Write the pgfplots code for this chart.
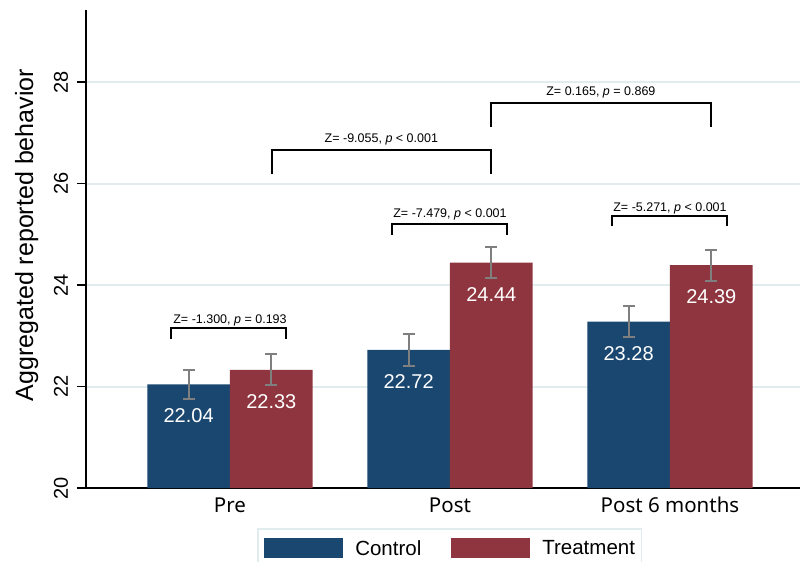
\documentclass[border=0pt]{standalone}
\usepackage{pgfplots}
\pgfplotsset{compat=1.18}
\usepackage{fontspec}
\setmainfont{Liberation Sans}
\newfontfamily\notosans{Noto Sans}
\definecolor{ctrl}{HTML}{1A476F}
\definecolor{treat}{HTML}{8E353F}
\definecolor{gridc}{HTML}{E1ECEF}
\definecolor{errc}{HTML}{7F7F7F}
\definecolor{lgd}{HTML}{E1ECEF}
\begin{document}
\begin{tikzpicture}
\begin{axis}[
  at={(0,0)}, anchor=south west,
  scale only axis, width=714bp, height=478bp,
  xmin=-0.6545, xmax=2.591, ymin=20, ymax=29.42,
  axis x line*=bottom, axis y line*=left,
  axis line style={black, line width=1.5bp, -},
  xtick={0,1,2}, xticklabels={Pre,Post,Post 6 months},
  xtick style={draw=none},
  xticklabel style={font=\notosans\fontsize{20.5bp}{24bp}\selectfont, text height=15bp, text depth=0pt, inner sep=0pt, anchor=north},
  ytick={20,22,24,26,28},
  ytick style={black, line width=1.5bp},
  tick align=outside, major tick length=9bp,
  yticklabel shift=9bp,
  yticklabel style={font=\fontsize{20bp}{24bp}\selectfont, rotate=90, anchor=south, inner sep=0pt, text depth=0pt},
  /pgf/number format/assume math mode=true,
  ymajorgrids, grid style={gridc, line width=2bp},
  ylabel={Aggregated reported behavior},
  ylabel style={font=\fontsize{25bp}{30bp}\selectfont, at={(axis description cs:-0.0742,0.529)}, anchor=base},
  legend columns=2,
  legend style={at={(axis description cs:0.2395,-0.0837)}, anchor=north west, draw=lgd, line width=1.5bp, fill=white,
    inner xsep=6.5bp, inner ysep=9bp, font=\fontsize{20.5bp}{24bp}\selectfont,
    nodes={inner sep=0pt, text depth=0pt},
    /tikz/every odd column/.append style={column sep=12bp},
    /tikz/every even column/.append style={column sep=30bp}},
  legend cell align=left,
  nodes near coords={\pgfmathprintnumber[fixed,precision=2,fixed zerofill]{\pgfplotspointmeta}},
  every node near coord/.append style={white, font=\fontsize{20bp}{24bp}\selectfont, anchor=north, inner sep=0pt, text height=14.3bp, text depth=0pt, yshift=-24bp},
]
\addplot[ybar, bar width=0.376, bar shift=0pt, fill=ctrl, draw=none,
  legend image code/.code={\fill[ctrl] (0bp,-10bp) rectangle (79bp,10bp);},
  error bars/.cd, y dir=both, y explicit,
  error bar style={errc, line width=2bp},
  error mark options={errc, line width=2bp, mark size=6bp, rotate=90}]
  coordinates {(-0.188,22.04) +- (0,0.29) (0.812,22.72) +- (0,0.32) (1.812,23.28) +- (0,0.31)};
\addplot[ybar, bar width=0.376, bar shift=0pt, fill=treat, draw=none,
  legend image code/.code={\fill[treat] (0bp,-10bp) rectangle (79bp,10bp);},
  error bars/.cd, y dir=both, y explicit,
  error bar style={errc, line width=2bp},
  error mark options={errc, line width=2bp, mark size=6bp, rotate=90}]
  coordinates {(0.188,22.33) +- (0,0.31) (1.188,24.44) +- (0,0.31) (2.188,24.39) +- (0,0.31)};
\legend{Control,Treatment}
% brackets
\addplot[black, line width=1.5bp, mark=none, forget plot, nodes near coords={}] coordinates {(-0.268,22.936) (-0.268,23.153) (0.255,23.153) (0.255,22.936)};
\addplot[black, line width=1.5bp, mark=none, forget plot, nodes near coords={}] coordinates {(0.736,24.985) (0.736,25.202) (1.259,25.202) (1.259,24.985)};
\addplot[black, line width=1.5bp, mark=none, forget plot, nodes near coords={}] coordinates {(1.736,25.163) (1.736,25.36) (2.259,25.36) (2.259,25.163)};
\addplot[black, line width=1.5bp, mark=none, forget plot, nodes near coords={}] coordinates {(0.19,26.187) (0.19,26.66) (1.186,26.66) (1.186,26.187)};
\addplot[black, line width=1.5bp, mark=none, forget plot, nodes near coords={}] coordinates {(1.186,27.113) (1.186,27.586) (2.186,27.586) (2.186,27.113)};
\begin{scope}[every node/.style={font=\fontsize{12.5bp}{15bp}\selectfont, anchor=base, inner sep=0pt}]
\node at (axis cs:0,23.251) {Z= -1.300, \textit{p} = 0.193};
\node at (axis cs:1,25.340) {Z= -7.479, \textit{p} < 0.001};
\node at (axis cs:2,25.458) {Z= -5.271, \textit{p} < 0.001};
\node at (axis cs:0.688,26.818) {Z= -9.055, \textit{p} < 0.001};
\node at (axis cs:1.686,27.744) {Z= 0.165, \textit{p} = 0.869};
\end{scope}
\end{axis}
\pgfresetboundingbox
\path (-86bp,-74bp) rectangle (715bp,488bp);
\end{tikzpicture}
\end{document}
